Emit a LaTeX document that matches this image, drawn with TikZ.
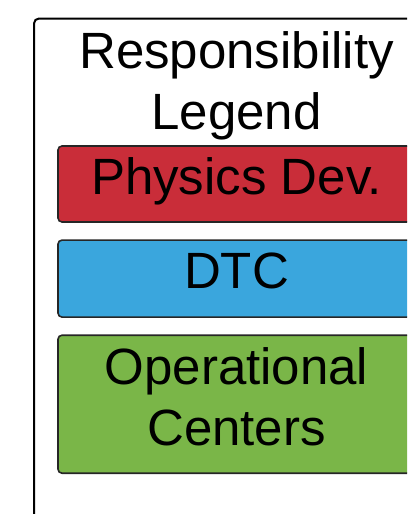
\documentclass[tikz,border=0pt]{standalone}
\usepackage{fontspec}
\setmainfont{Liberation Sans}
\usetikzlibrary{positioning}
\definecolor{physred}{HTML}{C92D39}
\definecolor{dtcblue}{HTML}{3AA6DD}
\definecolor{opgreen}{HTML}{7AB648}

\begin{document}
\begin{tikzpicture}[x=1pt,y=-1pt,align=center,font=\fontsize{51}{61}\selectfont,
		legendbox/.style={draw=black!85, line width=1.6pt, rounded corners=4pt, minimum width=357pt, text depth=15pt, inner sep=0pt}]
		\useasboundingbox (0,0) rectangle (407,514);
		\clip (0,0) rectangle (407,514);
		% Frame and title
		\node [draw, line width=2pt, rounded corners=5pt, anchor=north west, minimum width=407pt, minimum height=530pt] (legend) at (33,17.5) {};
		\node [anchor=north, inner sep=0pt] (title) at (236.5,31.7) {Responsibility\\Legend};
		
		% Legend entries
		\node [legendbox, fill=physred, minimum height=76pt] (physdev) at (236.5,184) {Physics Dev.};
		\node [legendbox, fill=dtcblue, minimum height=77pt, below=16.5pt of physdev] (dtc) {DTC};
		\node [legendbox, fill=opgreen, minimum height=138pt, below=16.5pt of dtc] (opcenters) {Operational\\Centers};
\end{tikzpicture}
\end{document}
